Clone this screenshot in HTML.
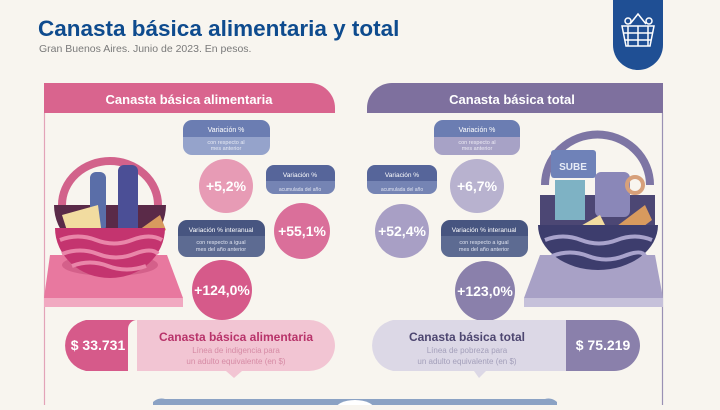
<!DOCTYPE html>
<html><head><meta charset="utf-8"><style>
html,body{margin:0;padding:0;}
body{width:720px;height:405px;overflow:hidden;background:#f8f5ef;font-family:"Liberation Sans",sans-serif;}
</style></head><body>
<svg width="720" height="405" viewBox="0 0 720 405" xmlns="http://www.w3.org/2000/svg" font-family="Liberation Sans, sans-serif">
<rect width="720" height="405" fill="#f8f5ef"/>
<text x="38" y="36" font-size="22.5" font-weight="bold" fill="#0e4b8e">Canasta básica alimentaria y total</text>
<text x="39" y="52" font-size="10.5" fill="#7a7a7a">Gran Buenos Aires. Junio de 2023. En pesos.</text>
<!-- logo -->
<path d="M613 0 H663 V45 A25 25 0 0 1 613 45 Z" fill="#1f4f94"/>
<g stroke="#fff" stroke-width="1.5" fill="none">
<path d="M622 26 H654 L650 46 H626 Z"/><path d="M628 26 V46 M638 26 V46 M648 26 V46 M624 33 H652 M625 40 H651"/>
<path d="M630 24 L638 14 L646 24"/><circle cx="628" cy="21" r="3"/><circle cx="649" cy="21" r="3"/>
</g>
<!-- left panel -->
<path d="M44 83 H310 A25 25 0 0 1 335 108 V113 H44 Z" fill="#d9648e"/>
<text x="189" y="104" font-size="13" font-weight="bold" fill="#fff" text-anchor="middle">Canasta básica alimentaria</text>
<line x1="44.5" y1="113" x2="44.5" y2="405" stroke="#e3a3b8" stroke-width="1.2"/>
<!-- right panel -->
<path d="M392 83 H663 V113 H367 V108 A25 25 0 0 1 392 83 Z" fill="#7e709e"/>
<text x="512" y="104" font-size="13" font-weight="bold" fill="#fff" text-anchor="middle">Canasta básica total</text>
<line x1="662.5" y1="113" x2="662.5" y2="405" stroke="#9a91b4" stroke-width="1.2"/>

<!-- left boxes -->
<g>
<path d="M192 120 H261 A9 9 0 0 1 270 129 V137 H183 V129 A9 9 0 0 1 192 120 Z" fill="#6b7db2"/>
<path d="M183 137 H270 V146 A9 9 0 0 1 261 155 H192 A9 9 0 0 1 183 146 Z" fill="#95a3cb"/>
<text x="226" y="132" font-size="7" fill="#fff" text-anchor="middle">Variación %</text>
<text x="226" y="144" font-size="5.5" fill="#e5e9f4" text-anchor="middle">con respecto al</text>
<text x="226" y="150" font-size="5.5" fill="#e5e9f4" text-anchor="middle">mes anterior</text>
<circle cx="226" cy="186" r="27" fill="#e79bb5"/>
<text x="226" y="191" font-size="14" font-weight="bold" fill="#fff" text-anchor="middle">+5,2%</text>

<path d="M274 165 H327 A8 8 0 0 1 335 173 V181 H266 V173 A8 8 0 0 1 274 165 Z" fill="#56659a"/>
<path d="M266 181 H335 V186 A8 8 0 0 1 327 194 H274 A8 8 0 0 1 266 186 Z" fill="#7584b4"/>
<text x="300" y="177" font-size="6.5" fill="#fff" text-anchor="middle">Variación %</text>
<text x="300" y="191" font-size="5" fill="#dfe3f0" text-anchor="middle">acumulada del año</text>
<circle cx="302" cy="231" r="28" fill="#da6f9a"/>
<text x="302" y="236" font-size="14" font-weight="bold" fill="#fff" text-anchor="middle">+55,1%</text>

<path d="M187 220 H256 A9 9 0 0 1 265 229 V236 H178 V229 A9 9 0 0 1 187 220 Z" fill="#475580"/>
<path d="M178 236 H265 V248 A9 9 0 0 1 256 257 H187 A9 9 0 0 1 178 248 Z" fill="#5d6b92"/>
<text x="221" y="232" font-size="6.5" fill="#fff" text-anchor="middle">Variación % interanual</text>
<text x="221" y="244" font-size="5.5" fill="#dfe3f0" text-anchor="middle">con respecto a igual</text>
<text x="221" y="251" font-size="5.5" fill="#dfe3f0" text-anchor="middle">mes del año anterior</text>
<circle cx="222" cy="290" r="30" fill="#d65a8a"/>
<text x="222" y="295" font-size="14" font-weight="bold" fill="#fff" text-anchor="middle">+124,0%</text>
</g>

<!-- left basket -->
<path d="M50 255 H167 L183 298 H44 Z" fill="#e8789f"/>
<rect x="44" y="298" width="139" height="9" fill="#f1a9c1"/>
<ellipse cx="110" cy="265" rx="48" ry="11" fill="#d4608a"/>
<path d="M62 205 A48 44 0 0 1 158 205" fill="none" stroke="#d2628b" stroke-width="8"/>
<path d="M54 205 H166 A56 52 0 0 1 54 205 Z" fill="#5a2a48"/>
<rect x="90" y="172" width="16" height="60" rx="6" fill="#5a6ea8"/>
<rect x="118" y="165" width="20" height="72" rx="6" fill="#4b4f96"/>
<path d="M62 215 L98 205 L102 235 L70 240 Z" fill="#f2dca0"/>
<path d="M125 240 L160 215 L166 230 L135 248 Z" fill="#d89a5e"/>
<path d="M55 228 H165 A55 50 0 0 1 55 228 Z" fill="#c4346f"/>
<path d="M60 240 Q78 233 96 240 T132 240 T162 240 M62 254 Q80 247 98 254 T134 254 T158 254 M72 266 Q90 259 108 266 T146 266" stroke="#e986a9" stroke-width="4" fill="none"/>

<!-- left pill -->
<path d="M164 320 H137 A9 9 0 0 0 128 329 V371 H86 A26 26 0 0 1 86 320 Z" fill="#d65a8a"/>
<path d="M137 320 H308 A26 26 0 0 1 335 346 A26 26 0 0 1 308 371 H137 Z" fill="#f2c5d3"/>
<path d="M226 371 L234 378 L242 371 Z" fill="#f2c5d3"/>
<text x="98" y="350" font-size="14" font-weight="bold" fill="#fff" text-anchor="middle">$  33.731</text>
<text x="236" y="341" font-size="12" font-weight="bold" fill="#b8336a" text-anchor="middle">Canasta básica alimentaria</text>
<text x="236" y="353" font-size="8" fill="#d68ba5" text-anchor="middle">Línea de indigencia para</text>
<text x="236" y="364" font-size="8" fill="#d68ba5" text-anchor="middle">un adulto equivalente (en $)</text>

<!-- right boxes -->
<path d="M443 120 H511 A9 9 0 0 1 520 129 V137 H434 V129 A9 9 0 0 1 443 120 Z" fill="#6b7db2"/>
<path d="M434 137 H520 V146 A9 9 0 0 1 511 155 H443 A9 9 0 0 1 434 146 Z" fill="#a7a2c6"/>
<text x="477" y="132" font-size="7" fill="#fff" text-anchor="middle">Variación %</text>
<text x="477" y="144" font-size="5.5" fill="#eceaf4" text-anchor="middle">con respecto al</text>
<text x="477" y="150" font-size="5.5" fill="#eceaf4" text-anchor="middle">mes anterior</text>
<circle cx="477" cy="186" r="27" fill="#b8b2cf"/>
<text x="477" y="191" font-size="14" font-weight="bold" fill="#fff" text-anchor="middle">+6,7%</text>

<path d="M375 165 H429 A8 8 0 0 1 437 173 V181 H367 V173 A8 8 0 0 1 375 165 Z" fill="#56659a"/>
<path d="M367 181 H437 V186 A8 8 0 0 1 429 194 H375 A8 8 0 0 1 367 186 Z" fill="#7584b4"/>
<text x="402" y="177" font-size="6.5" fill="#fff" text-anchor="middle">Variación %</text>
<text x="402" y="191" font-size="5" fill="#dfe3f0" text-anchor="middle">acumulada del año</text>
<circle cx="402" cy="231" r="27" fill="#a89fc5"/>
<text x="402" y="236" font-size="14" font-weight="bold" fill="#fff" text-anchor="middle">+52,4%</text>

<path d="M450 220 H519 A9 9 0 0 1 528 229 V236 H441 V229 A9 9 0 0 1 450 220 Z" fill="#475580"/>
<path d="M441 236 H528 V248 A9 9 0 0 1 519 257 H450 A9 9 0 0 1 441 248 Z" fill="#5d6b92"/>
<text x="484" y="232" font-size="6.5" fill="#fff" text-anchor="middle">Variación % interanual</text>
<text x="484" y="244" font-size="5.5" fill="#dfe3f0" text-anchor="middle">con respecto a igual</text>
<text x="484" y="251" font-size="5.5" fill="#dfe3f0" text-anchor="middle">mes del año anterior</text>
<circle cx="485" cy="291" r="30" fill="#8a80ab"/>
<text x="485" y="296" font-size="14" font-weight="bold" fill="#fff" text-anchor="middle">+123,0%</text>

<!-- right basket -->
<path d="M540 255 H655 L663 298 H524 Z" fill="#a8a1c6"/>
<rect x="524" y="298" width="139" height="9" fill="#c6c1da"/>
<path d="M545 185 A52 50 0 0 1 650 185" fill="none" stroke="#7d75a4" stroke-width="8"/>
<rect x="551" y="150" width="45" height="28" rx="3" fill="#6f82b8"/>
<text x="573" y="170" font-size="10" font-weight="bold" fill="#e6ebf6" text-anchor="middle">SUBE</text>
<path d="M540 195 H655 V230 H540 Z" fill="#4c4774"/>
<rect x="555" y="180" width="30" height="40" fill="#7eb2c4"/>
<rect x="595" y="172" width="35" height="45" rx="6" fill="#8a87b8"/>
<path d="M570 232 L600 215 L610 235 L580 245 Z" fill="#f2dca0"/>
<path d="M605 235 L645 205 L652 220 L615 248 Z" fill="#d89a5e"/>
<circle cx="635" cy="185" r="8" fill="none" stroke="#d7a07a" stroke-width="4"/>
<path d="M538 225 H658 A60 45 0 0 1 538 225 Z" fill="#3d3d6d"/>
<path d="M545 240 Q563 233 581 240 T617 240 T652 240 M552 256 Q570 249 588 256 T624 256 T645 256" stroke="#a9a3cc" stroke-width="4" fill="none"/>

<!-- right pill -->
<path d="M393 320 H566 V371 H393 A26 26 0 0 1 393 320 Z" fill="#dcd8e6"/>
<path d="M474 371 L479 378 L486 371 Z" fill="#dcd8e6"/>
<path d="M566 320 H614 A26 26 0 0 1 640 346 A26 26 0 0 1 614 371 H566 Z" fill="#8a80ab"/>
<text x="603" y="350" font-size="14" font-weight="bold" fill="#fff" text-anchor="middle">$ 75.219</text>
<text x="467" y="341" font-size="12" font-weight="bold" fill="#4d4670" text-anchor="middle">Canasta básica total</text>
<text x="467" y="353" font-size="8" fill="#a39fba" text-anchor="middle">Línea de pobreza para</text>
<text x="467" y="364" font-size="8" fill="#a39fba" text-anchor="middle">un adulto equivalente (en $)</text>

<!-- bottom bar -->
<path d="M153 405 V402 A12 12 0 0 1 165 399 H545 A12 12 0 0 1 557 402 V405 Z" fill="#8ba2c4"/>
<ellipse cx="355" cy="410" rx="20" ry="10" fill="#fff"/>
</svg>
</body></html>
